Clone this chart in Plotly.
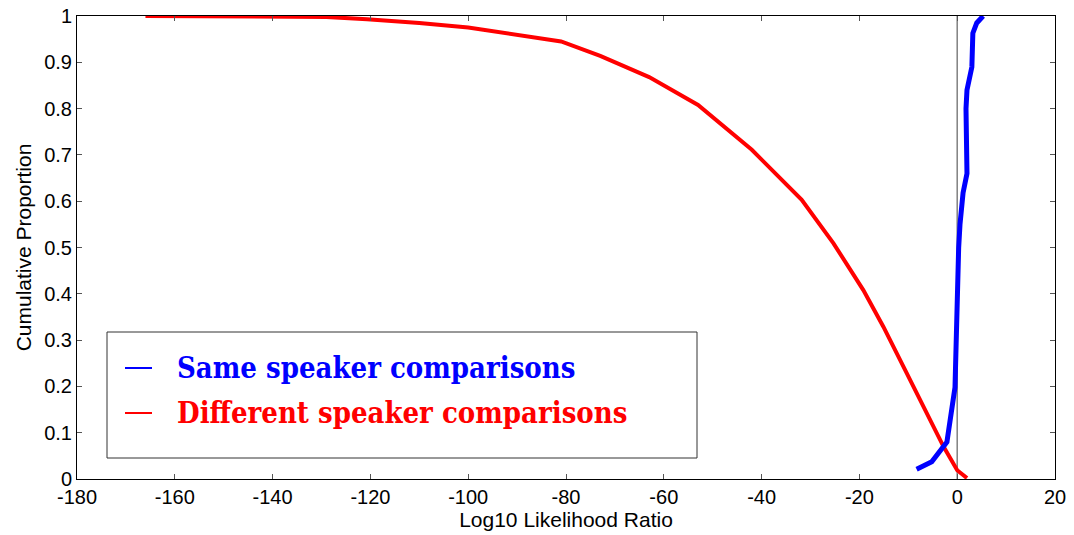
import plotly.graph_objects as go

# Different speaker comparisons (red)
red_x = [-166, -129, -120.7, -110, -100, -90, -81, -73, -63, -53, -42, -31.8, -25.3, -19.2, -15.1, -10.3, -6.2, -2.8, 0, 2]
red_y = [1.0, 0.998, 0.993, 0.985, 0.975, 0.959, 0.945, 0.914, 0.868, 0.808, 0.711, 0.603, 0.509, 0.408, 0.329, 0.228, 0.142, 0.070, 0.019, 0.002]

# Same speaker comparisons (blue)
blue_x = [-8.3, -5.2, -2.1, -0.45, 0.3, 0.57, 1.2, 2.0, 1.8, 2.0, 3.0, 3.2, 4.0, 5.3]
blue_y = [0.021, 0.037, 0.080, 0.198, 0.50, 0.55, 0.618, 0.66, 0.80, 0.84, 0.89, 0.963, 0.985, 1.0]

x_ticks = list(range(-180, 21, 20))
x_tick_labels = [str(v) for v in x_ticks]
y_ticks = [0, 0.1, 0.2, 0.3, 0.4, 0.5, 0.6, 0.7, 0.8, 0.9, 1]
y_tick_labels = ["0", "0.1", "0.2", "0.3", "0.4", "0.5", "0.6", "0.7", "0.8", "0.9", "1"]

legend_labels = ["Same speaker comparisons", "Different speaker comparisons"]
legend_colors = ["#0000ff", "#ff0000"]

fig = go.Figure()
fig.add_trace(go.Scatter(x=red_x, y=red_y, mode="lines",
                         line=dict(color="#ff0000", width=4), name=legend_labels[1]))
fig.add_trace(go.Scatter(x=blue_x, y=blue_y, mode="lines",
                         line=dict(color="#0000ff", width=5), name=legend_labels[0]))

# vertical reference line at 0
fig.add_shape(type="line", x0=0, x1=0, y0=0, y1=1, xref="x", yref="y",
              line=dict(color="#808080", width=1.5), layer="below")

# Legend box drawn manually (pixel positions converted to paper coords)
L, R, T, B = 77, 1055, 16, 479
W, H = R - L, B - T
def px(x):
    return (x - L) / W
def py(y):
    return (B - y) / H

fig.add_shape(type="rect", xref="paper", yref="paper",
              x0=px(107), x1=px(697), y0=py(458), y1=py(332),
              line=dict(color="#333333", width=1), fillcolor="white", layer="above")
for i, (lab, col) in enumerate(zip(legend_labels, legend_colors)):
    yc = 368 + i * 45
    fig.add_shape(type="line", xref="paper", yref="paper",
                  x0=px(125), x1=px(152), y0=py(yc), y1=py(yc),
                  line=dict(color=col, width=2), layer="above")
    fig.add_annotation(xref="paper", yref="paper", x=px(175), y=py(yc),
                       xanchor="left", yanchor="middle", showarrow=False,
                       text="<b>" + lab + "</b>",
                       font=dict(family="DejaVu Serif Condensed, DejaVu Serif, serif", size=29, color=col))

tick_font = dict(family="Liberation Sans, Arial, sans-serif", size=20, color="black")
title_font = dict(family="Liberation Sans, Arial, sans-serif", size=21, color="black")
axis_common = dict(showline=True, linecolor="black", linewidth=1, mirror="ticks",
                   ticks="inside", ticklen=5, tickcolor="#555555",
                   showgrid=False, zeroline=False, tickfont=tick_font, automargin=False)

fig.update_xaxes(range=[-180, 20], tickvals=x_ticks, ticktext=x_tick_labels,
                 title=dict(text="Log10 Likelihood Ratio", standoff=2, font=title_font),
                 **axis_common)
fig.update_yaxes(range=[0, 1], tickvals=y_ticks, ticktext=y_tick_labels,
                 title=dict(text="Cumulative Proportion", standoff=6, font=title_font),
                 **axis_common)

fig.update_layout(width=1074, height=535, showlegend=False,
                  margin=dict(l=77, r=19, t=16, b=56),
                  plot_bgcolor="white", paper_bgcolor="white")

fig.write_html("out.html")
